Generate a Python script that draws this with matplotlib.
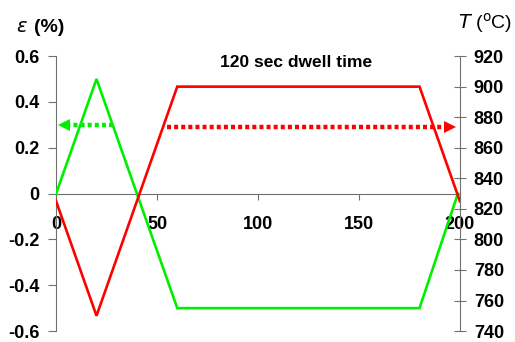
import numpy as np
import matplotlib.pyplot as plt

# thermo-mechanical cycle: strain (left) and temperature (right)
t_strain = [0, 20, 60, 180, 199]
strain = [0, 0.5, -0.5, -0.5, 0]
t_temp = [0, 20, 60, 180, 200]
temp = [825, 750, 900, 900, 825]

eps_ticks = [-0.6, -0.4, -0.2, 0, 0.2, 0.4, 0.6]
eps_labels = ['-0.6', '-0.4', '-0.2', '0', '0.2', '0.4', '0.6']
temp_ticks = list(range(740, 921, 20))
time_ticks = [0, 50, 100, 150, 200]

# arrow pointers (start, tip, height)
green_arrow = [28, 1, 0.3]
red_arrow = [55, 198, 0.29]

plt.rcParams['font.family'] = ['Liberation Sans', 'DejaVu Sans']

fig = plt.figure(figsize=(5.15, 3.42), dpi=100)
ax = fig.add_axes([0.109, 0.032, 0.784, 0.804])
ax2 = ax.twinx()

grey = '#707070'
ax.plot(t_strain, strain, color='#00ee00', lw=1.9, solid_joinstyle='miter', zorder=3)
ax2.plot(t_temp, temp, color='#ff0000', lw=1.9, solid_joinstyle='miter', zorder=3)

ax.set_xlim(0, 200)
ax.set_ylim(-0.6, 0.6)
ax2.set_ylim(740, 920)

# dotted arrows
gx0, gx1, gy = green_arrow
ax.plot([gx0, gx1 + 5], [gy, gy], color='#00ee00', lw=3.2, ls=(0, (0.9, 0.7)), solid_capstyle='butt')
ax.plot(gx1 + 3, gy, marker='<', color='#00ee00', ms=9, mew=0)
rx0, rx1, ry = red_arrow
ax.plot([rx0, rx1 - 5], [ry, ry], color='#ff0000', lw=3.2, ls=(0, (0.9, 0.7)))
ax.plot(rx1 - 3, ry, marker='>', color='#ff0000', ms=9, mew=0)

ax.text(119, 0.57, '120 sec dwell time', ha='center', va='center', fontsize=12.5, fontweight='bold')

# spines
for s in ['top', 'bottom']:
    ax.spines[s].set_visible(False)
    ax2.spines[s].set_visible(False)
ax2.spines['left'].set_visible(False)
ax.spines['right'].set_visible(False)
ax.spines['bottom'].set_visible(True)
ax.spines['bottom'].set_position(('data', 0))
ax.spines['bottom'].set_color(grey)
ax.spines['left'].set_color(grey)
ax2.spines['right'].set_color(grey)

ax.set_xticks(time_ticks)
ax.set_yticks(eps_ticks)
ax.set_yticklabels(eps_labels)
ax2.set_yticks(temp_ticks)
ax.tick_params(axis='x', direction='out', length=4, color=grey, pad=12, labelsize=13)
ax.tick_params(axis='y', direction='out', length=6, color=grey, pad=6, labelsize=13)
ax2.tick_params(axis='y', direction='inout', length=8, color=grey, pad=6, labelsize=13)
for lab in ax.get_xticklabels() + ax.get_yticklabels() + ax2.get_yticklabels():
    lab.set_fontweight('bold')

fig.text(0.032, 0.921, r'$\varepsilon$', fontsize=14, va='center', ha='left',
         family='DejaVu Serif', style='italic')
fig.text(0.066, 0.921, '(%)', fontsize=14, va='center', ha='left', fontweight='bold')
fig.text(0.889, 0.932, r'$T$ ($^{\mathrm{o}}$C)', fontsize=14, va='center', ha='left')

fig.savefig('out.png', dpi=100)
